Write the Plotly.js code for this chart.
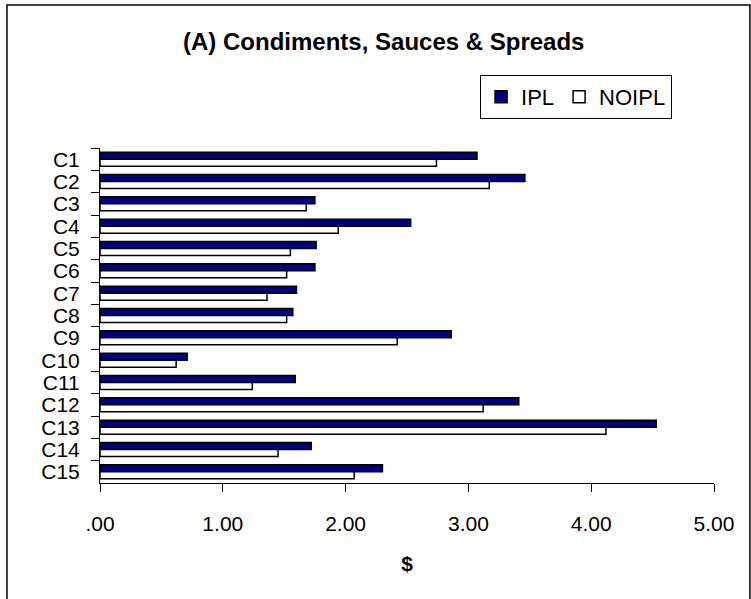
<!DOCTYPE html>
<html>
<head>
<meta charset="utf-8">
<script src="https://cdn.plot.ly/plotly-3.0.1.min.js"></script>
<style>
  html, body { margin: 0; padding: 0; background: #fff; }
  #chart { width: 751px; height: 599px; }
</style>
</head>
<body>
<div id="chart"></div>
<script>
const categories = ["C1","C2","C3","C4","C5","C6","C7","C8","C9","C10","C11","C12","C13","C14","C15"];
const iplValues   = [3.07, 3.46, 1.75, 2.53, 1.76, 1.75, 1.60, 1.57, 2.86, 0.71, 1.59, 3.41, 4.53, 1.72, 2.30];
const noiplValues = [2.74, 3.17, 1.68, 1.94, 1.55, 1.52, 1.36, 1.52, 2.42, 0.62, 1.24, 3.12, 4.12, 1.45, 2.07];
const xTickValues = [0, 1, 2, 3, 4, 5];
const xTickLabels = [".00", "1.00", "2.00", "3.00", "4.00", "5.00"];

const FONT = "'Liberation Sans Narrow', 'Arial Narrow', 'Liberation Sans', Arial, sans-serif";

const traces = [
  {
    type: "bar", orientation: "h", name: "IPL",
    y: categories, x: iplValues,
    marker: { color: "#000080", line: { color: "#000000", width: 1.5 } },
    hoverinfo: "x+y"
  },
  {
    type: "bar", orientation: "h", name: "NOIPL",
    y: categories, x: noiplValues,
    marker: { color: "#ffffff", line: { color: "#000000", width: 1.5 } },
    hoverinfo: "x+y"
  }
];

const layout = {
  width: 751, height: 599,
  margin: { l: 100, r: 37, t: 148, b: 116, pad: 0 },
  paper_bgcolor: "#ffffff", plot_bgcolor: "#ffffff",
  font: { family: FONT, color: "#000000", size: 20 },
  barmode: "group",
  bargap: 0.37,
  bargroupgap: 0,
  showlegend: true,
  title: {
    text: "<b>(A) Condiments, Sauces & Spreads</b>",
    font: { family: FONT, size: 24, color: "#000000" },
    xref: "container", x: 0.511, xanchor: "center",
    yref: "container", y: 0.93, yanchor: "middle"
  },
  legend: {
    orientation: "h",
    x: 0.619, xanchor: "left",
    y: 1.218, yanchor: "top",
    bgcolor: "#ffffff",
    bordercolor: "#000000", borderwidth: 1,
    font: { family: FONT, size: 22, color: "#000000" },
    itemwidth: 30,
    tracegroupgap: 0
  },
  xaxis: {
    range: [0, 5],
    tickmode: "array", tickvals: xTickValues, ticktext: xTickLabels,
    ticks: "outside", ticklen: 8, tickcolor: "#000000", tickwidth: 1,
    showline: true, linecolor: "#000000", linewidth: 1,
    showgrid: false, zeroline: false,
    ticklabelstandoff: 14,
    tickfont: { family: FONT, size: 21, color: "#000000" },
    title: { text: "<b>$</b>", font: { family: FONT, size: 21, color: "#000000" }, standoff: 22 },
    fixedrange: true
  },
  yaxis: {
    type: "category",
    autorange: "reversed",
    tickmode: "linear", tick0: 0, dtick: 1,
    tickson: "boundaries",
    ticks: "outside", ticklen: 8, tickcolor: "#000000", tickwidth: 1,
    showline: true, linecolor: "#000000", linewidth: 1,
    showgrid: false, zeroline: false,
    ticklabelstandoff: 15,
    ticklabeloverflow: "allow",
    tickfont: { family: FONT, size: 21, color: "#000000" },
    fixedrange: true
  },
  shapes: [
    {
      type: "rect", xref: "paper", yref: "paper",
      x0: -0.1515, x1: 1.0585, y0: -0.40, y1: 1.4267,
      line: { color: "#000000", width: 1.5 },
      fillcolor: "rgba(0,0,0,0)", layer: "below"
    }
  ]
};

Plotly.newPlot("chart", traces, layout, { displayModeBar: false, staticPlot: true });
</script>
</body>
</html>
